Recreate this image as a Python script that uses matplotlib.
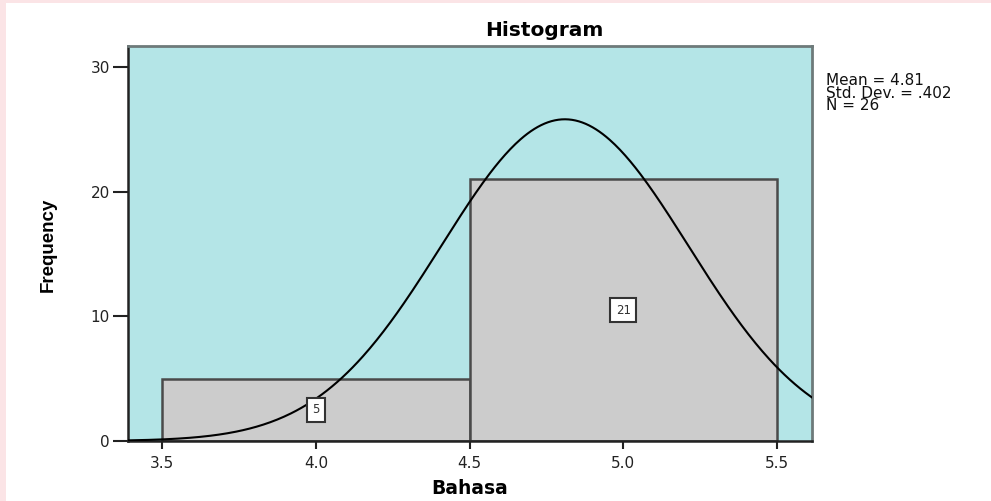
import numpy as np
import matplotlib.pyplot as plt
from matplotlib.patches import Rectangle

# histogram of Bahasa scores
bin_edges = [3.5, 4.5, 5.5]
counts = [5, 21]
mean = 4.81
std_dev = 0.402
n_obs = 26
x_ticks = [3.5, 4.0, 4.5, 5.0, 5.5]
y_ticks = [0, 10, 20, 30]

plt.rcParams["font.family"] = ["DejaVu Sans"]

fig = plt.figure(figsize=(9.91, 5.01), dpi=100)
fig.patch.set_facecolor("white")

# thin pink frame along the top and left edges of the page
fig.patches.append(Rectangle((0, 1 - 3 / 501), 1, 3 / 501, transform=fig.transFigure,
                             facecolor="#fbe4e6", edgecolor="none", zorder=0))
fig.patches.append(Rectangle((0, 0), 6 / 991, 1, transform=fig.transFigure,
                             facecolor="#fbe4e6", edgecolor="none", zorder=0))

ax = fig.add_axes([128 / 991, 1 - 441 / 501, 684 / 991, 395 / 501])
ax.set_facecolor("#b4e5e7")

widths = np.diff(bin_edges)
lefts = np.array(bin_edges[:-1])
ax.bar(lefts, counts, width=widths, align="edge", color="#cccccc",
       edgecolor="#4a4a4a", linewidth=1.8, zorder=2)

# value boxes in the middle of each bar
for left, w, c in zip(lefts, widths, counts):
    ax.text(left + w / 2, c / 2, str(c), ha="center", va="center", fontsize=8.5,
            color="#333333", zorder=4,
            bbox=dict(boxstyle="square,pad=0.45", facecolor="white",
                      edgecolor="#333333", linewidth=1.5))

xlim = (3.389, 5.614)
ylim = (0, 31.68)

# fitted normal curve scaled to counts
xs = np.linspace(xlim[0], xlim[1], 400)
bin_w = widths[0]
ys = n_obs * bin_w / (std_dev * np.sqrt(2 * np.pi)) * np.exp(-0.5 * ((xs - mean) / std_dev) ** 2)
ax.plot(xs, ys, color="black", linewidth=1.5, zorder=3)

ax.set_xlim(*xlim)
ax.set_ylim(*ylim)
ax.set_xticks(x_ticks)
ax.set_xticklabels([f"{t:.1f}" for t in x_ticks])
ax.set_yticks(y_ticks)
ax.tick_params(axis="both", labelsize=11, colors="#222222", width=1.5, pad=2)
ax.tick_params(axis="y", length=11)
ax.tick_params(axis="x", length=6, pad=5)

for side in ["left", "bottom"]:
    ax.spines[side].set_color("#222222")
    ax.spines[side].set_linewidth(1.8)
for side in ["top", "right"]:
    ax.spines[side].set_color("#6e7a7a")
    ax.spines[side].set_linewidth(2)

fig.text(544 / 991, 1 - 31 / 501, "Histogram", fontsize=14.5, fontweight="bold",
         ha="center", va="center")
fig.text(470 / 991, 1 - 489 / 501, "Bahasa", fontsize=13.5, fontweight="bold",
         ha="center", va="center")
fig.text(48 / 991, 1 - 245 / 501, "Frequency", fontsize=13.5, fontweight="bold",
         rotation=90, ha="center", va="center",
         family=["Liberation Sans Narrow", "Liberation Sans", "DejaVu Sans"])

fig.text(826 / 991, 1 - 73 / 501,
         f"Mean = {mean:.2f}\nStd. Dev. = {str(std_dev)[1:]}\nN = {n_obs}",
         fontsize=11, va="top", ha="left", linespacing=0.8, color="#111111")

fig.savefig("out.png", dpi=100, facecolor=fig.get_facecolor())
